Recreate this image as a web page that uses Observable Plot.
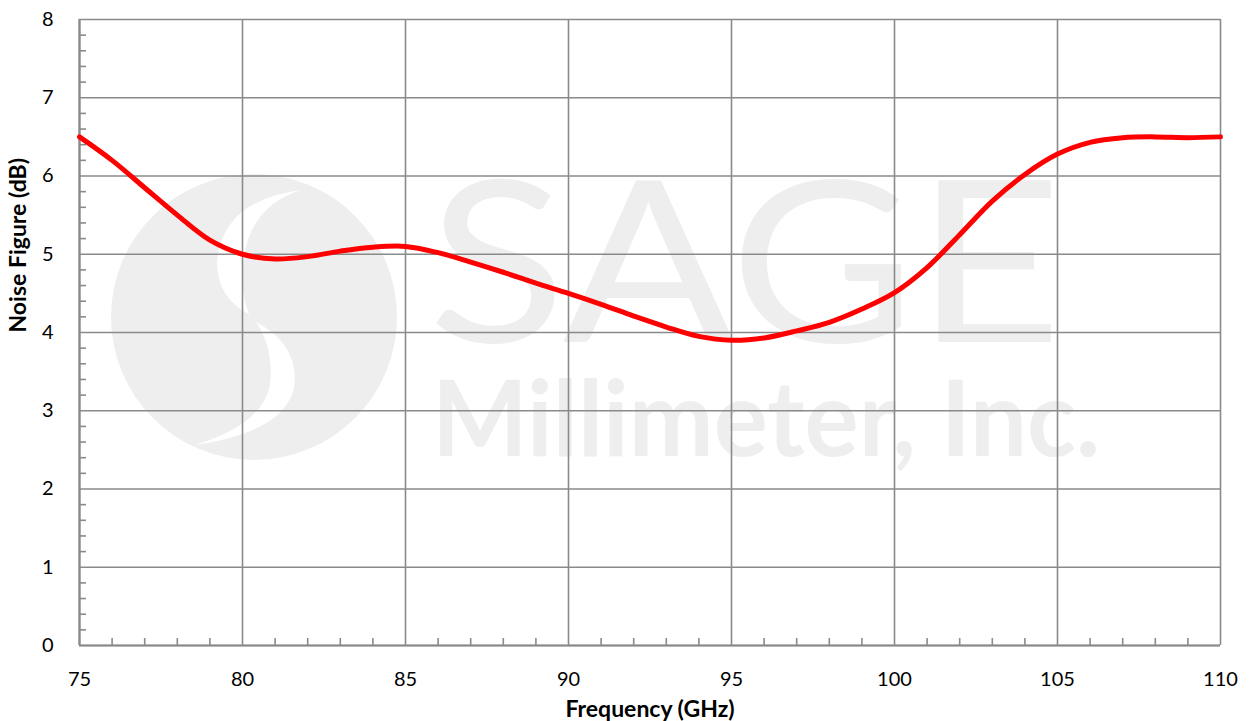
<!DOCTYPE html>
<html>
<head>
<meta charset="utf-8">
<script src="https://cdn.jsdelivr.net/npm/d3@7"></script>
<script src="https://cdn.jsdelivr.net/npm/@observablehq/plot@0.6"></script>
<style>
  html, body { margin: 0; padding: 0; background: #fff; }
  #chart svg { display: block; }
</style>
</head>
<body>
<div id="chart"></div>
<script>
// Frequency (GHz)
const freq = [75,76,77,78,79,80,81,82,83,84,85,86,87,88,89,90,91,92,93,94,95,96,97,98,99,100,101,102,103,104,105,106,107,108,109,110];
// Noise Figure (dB)
const nf = [6.50,6.20,5.85,5.50,5.18,5.00,4.94,4.97,5.04,5.09,5.10,5.02,4.90,4.77,4.63,4.50,4.36,4.21,4.07,3.95,3.90,3.93,4.02,4.13,4.30,4.51,4.83,5.25,5.68,6.02,6.28,6.43,6.49,6.50,6.49,6.50];

const xTicks = [75,80,85,90,95,100,105,110];
const yTicks = [0,1,2,3,4,5,6,7,8];
const xMinor = d3.range(76,110).filter(v => v % 5 !== 0);
const yMinor = d3.range(0,40).map(i => i*0.2).filter((v,i) => i % 5 !== 0);

const data = freq.map((f,i) => ({f, v: nf[i]}));

const W = 1250, H = 721;
const mL = 79, mR = 30, mT = 19, mB = 76;
const innerW = W - mL - mR, innerH = H - mT - mB;
const grey = "#8a8a8a";
const font = "Lato, 'Open Sans', sans-serif";

const chart = Plot.plot({
  width: W, height: H,
  marginLeft: mL, marginRight: mR, marginTop: mT, marginBottom: mB,
  style: {fontFamily: font, fontSize: "20px", color: "#000", background: "#fff"},
  x: {domain: [75,110], label: null},
  y: {domain: [0,8], label: null},
  marks: [
    Plot.gridX(xTicks, {stroke: grey, strokeOpacity: 1, strokeWidth: 1.6}),
    Plot.gridY(yTicks, {stroke: grey, strokeOpacity: 1, strokeWidth: 1.6}),
    Plot.tickX(xMinor, {x: d => d, stroke: grey, strokeWidth: 1.6, insetTop: innerH - 7}),
    Plot.tickY(yMinor, {y: d => d, stroke: grey, strokeWidth: 1.6, insetRight: innerW - 7}),
    Plot.ruleX([75], {stroke: grey, strokeWidth: 2.2}),
    Plot.ruleY([0], {stroke: grey, strokeWidth: 2.2}),
    Plot.axisX(xTicks, {tickSize: 0, tickPadding: 26, fontSize: 20, tickFormat: d => String(d)}),
    Plot.axisY(yTicks, {tickSize: 0, tickPadding: 26, fontSize: 20, tickFormat: d => String(d)}),
    Plot.line(data, {x: "f", y: "v", stroke: "#ff0000", strokeWidth: 5, curve: "catmull-rom"}),
    Plot.text(["Frequency (GHz)"], {frameAnchor: "bottom", dy: 64, lineAnchor: "middle", fontWeight: "bold", fontSize: 23, fill: "#000"}),
    Plot.text(["Noise Figure (dB)"], {frameAnchor: "left", dx: -61, rotate: -90, lineAnchor: "middle", fontWeight: "bold", fontSize: 23, fill: "#000"})
  ]
});

document.getElementById("chart").appendChild(chart);

// Watermark (decoration beneath the grid)
const svg = d3.select(chart);
const wm = svg.insert("g", ":scope > g").attr("class", "watermark").attr("text-anchor", "start");
const wmFill = "#eeeeee";
wm.append("circle").attr("cx", 254).attr("cy", 317).attr("r", 143).attr("fill", wmFill);
wm.append("path").attr("fill", "#fff")
  .attr("d", "M 302 190 Q 222 200 217 262 Q 217 298 249 314 Q 240 292 243 262 Q 250 205 302 190 Z");
wm.append("path").attr("fill", "#fff")
  .attr("d", "M 256 322 Q 300 345 294 388 Q 284 432 195 445 Q 262 425 270 385 Q 274 348 256 322 Z");
const wt = wm.append("text").attr("text-anchor", "start")
  .attr("font-family", "Lato, sans-serif").attr("fill", wmFill);
wt.append("tspan").text("SAGE")
  .attr("x", 428).attr("y", 342)
  .attr("font-weight", 400).attr("font-size", 226)
  .attr("textLength", 634).attr("lengthAdjust", "spacingAndGlyphs");
wt.append("tspan").text("Millimeter, Inc.")
  .attr("x", 432).attr("y", 456)
  .attr("font-weight", "bold").attr("font-size", 105)
  .attr("textLength", 668).attr("lengthAdjust", "spacingAndGlyphs");
</script>
</body>
</html>
